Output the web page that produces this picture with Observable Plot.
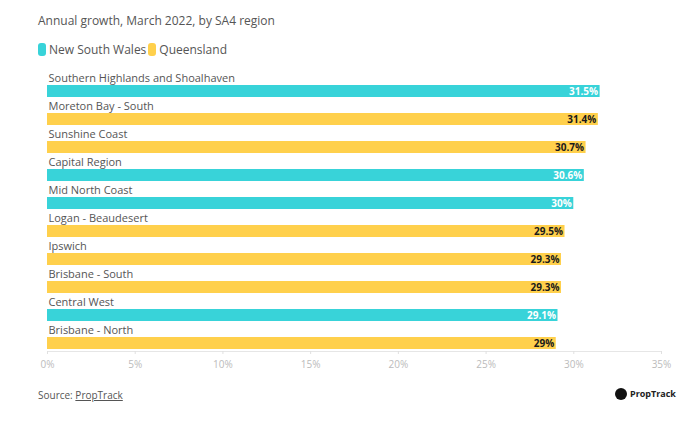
<!DOCTYPE html>
<html>
<head>
<meta charset="utf-8">
<script src="https://cdn.jsdelivr.net/npm/d3@7"></script>
<script src="https://cdn.jsdelivr.net/npm/@observablehq/plot@0.6"></script>
<style>
  body { margin: 0; background: #fff; font-family: "Open Sans", sans-serif; width: 694px; height: 437px; position: relative; overflow: hidden; }
  #title { position: absolute; left: 38px; top: 12px; font-size: 12px; color: #555; }
  #legend { position: absolute; left: 38px; top: 41px; font-size: 12px; color: #555; display: flex; align-items: center; }
  .sw { display: inline-block; width: 8px; height: 13px; border-radius: 3px; margin-right: 3px; }
  .lab { margin-right: 2px; }
  #chart { position: absolute; left: 0; top: 60px; }
  #source { position: absolute; left: 38px; top: 388px; font-size: 10px; color: #555; }
  #source u { color: #555; }
  #logo { position: absolute; left: 615px; top: 387px; font-size: 9px; font-weight: 700; color: #222; display: flex; align-items: center; }
  #logo .c { width: 12px; height: 12px; border-radius: 50%; background: #111; margin-right: 3px; }
</style>
</head>
<body>
<div id="title">Annual growth, March 2022, by SA4 region</div>
<div id="legend"></div>
<div id="chart"></div>
<div id="source">Source: <u>PropTrack</u></div>
<div id="logo"><span class="c"></span>PropTrack</div>
<script>
const regions = ["Southern Highlands and Shoalhaven", "Moreton Bay - South", "Sunshine Coast", "Capital Region", "Mid North Coast", "Logan - Beaudesert", "Ipswich", "Brisbane - South", "Central West", "Brisbane - North"];
const growth = [31.5, 31.4, 30.7, 30.6, 30, 29.5, 29.3, 29.3, 29.1, 29];
const states = ["New South Wales", "Queensland", "Queensland", "New South Wales", "New South Wales", "Queensland", "Queensland", "Queensland", "New South Wales", "Queensland"];
const seriesNames = ["New South Wales", "Queensland"];
const seriesColors = ["#38D3D9", "#FFD04C"];
const xTicks = [0, 5, 10, 15, 20, 25, 30, 35];

const data = regions.map((name, i) => ({name, value: growth[i], state: states[i]}));

const legend = document.getElementById("legend");
seriesNames.forEach((s, i) => {
  const sw = document.createElement("span"); sw.className = "sw"; sw.style.background = seriesColors[i];
  const t = document.createElement("span"); t.className = "lab"; t.textContent = s;
  legend.appendChild(sw); legend.appendChild(t);
});

const chart = Plot.plot({
  width: 694,
  height: 312,
  marginTop: 11,
  marginBottom: 21,
  marginLeft: 47,
  marginRight: 33,
  style: {fontFamily: "Open Sans, sans-serif", background: "transparent"},
  x: {domain: [0, 35], ticks: xTicks, tickFormat: d => d + "%", label: null},
  y: {domain: regions, padding: 0, axis: null},
  color: {domain: seriesNames, range: seriesColors},
  marks: [
    Plot.barX(data, {x: "value", y: "name", fill: "state", insetTop: 14, insetBottom: 2}),
    Plot.text(data, {x: () => 0, y: "name", text: "name", textAnchor: "start", dx: 1, dy: -7, fill: "#555", fontSize: 11}),
    Plot.text(data.filter(d => d.state === seriesNames[0]), {x: "value", y: "name", text: d => d.value + "%", textAnchor: "end", dx: -2, dy: 6, fill: "white", fontWeight: 700, fontSize: 10}),
    Plot.text(data.filter(d => d.state === seriesNames[1]), {x: "value", y: "name", text: d => d.value + "%", textAnchor: "end", dx: -2, dy: 6, fill: "#1a1a1a", fontWeight: 700, fontSize: 10}),
    Plot.frame({anchor: "bottom", stroke: "#e6e6e6"}),
    Plot.axisX({ticks: xTicks, tickFormat: d => d + "%", tickSize: 3, stroke: "#e0e0e0", color: "#bbb", fontSize: 10, label: null})
  ]
});
document.getElementById("chart").appendChild(chart);
</script>
</body>
</html>
